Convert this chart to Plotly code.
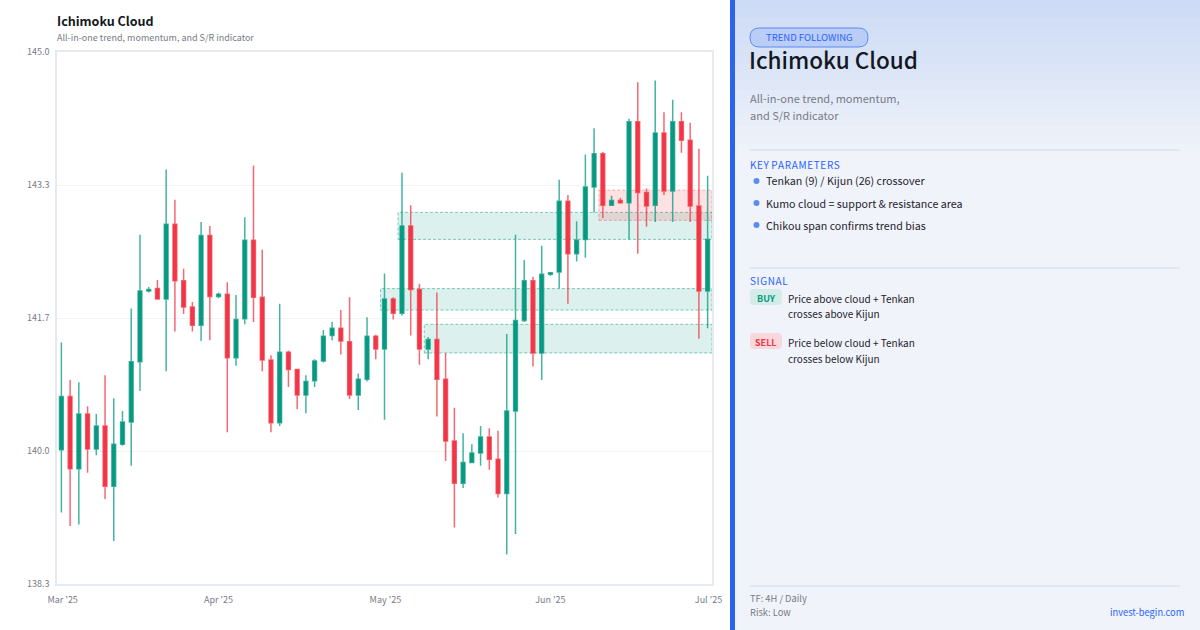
import plotly.graph_objects as go

# ---------------- data ----------------
opens = [139.99, 140.66, 139.75, 140.44, 140.00, 140.29, 139.53, 140.06, 140.34, 141.10,
         141.99, 142.02, 141.89, 142.83, 142.12, 141.79, 141.56, 142.69, 141.92, 141.95,
         141.15, 141.64, 142.63, 141.91, 141.12, 140.33, 141.22, 141.00, 140.68, 140.86,
         141.11, 141.43, 141.52, 141.35, 140.68, 140.88, 141.42, 141.26, 141.89, 141.71,
         142.81, 142.01, 141.26, 141.38, 140.88, 140.10, 139.57, 139.83, 139.95, 140.15,
         139.87, 139.44, 140.48, 141.62, 142.12, 141.21, 142.20, 142.23, 143.12, 142.46,
         142.64, 143.30, 143.72, 143.07, 143.13, 143.10, 144.12, 143.23, 143.07, 143.98,
         143.25, 144.12, 143.89, 143.06, 141.99]
highs = [141.34, 140.87, 140.84, 140.54, 140.44, 140.93, 140.64, 140.48, 141.77, 142.70,
         142.04, 142.13, 143.52, 143.14, 142.27, 141.85, 142.86, 142.81, 141.97, 142.10,
         141.94, 142.92, 143.57, 142.51, 141.18, 141.83, 141.24, 141.01, 140.93, 141.13,
         141.50, 141.60, 141.75, 141.91, 140.95, 141.66, 141.44, 142.21, 141.91, 143.48,
         143.07, 142.08, 141.41, 141.97, 141.21, 140.52, 140.20, 140.06, 140.29, 140.26,
         140.23, 141.45, 142.70, 142.38, 142.17, 142.56, 142.23, 143.39, 143.20, 142.87,
         143.71, 144.04, 143.74, 143.19, 143.16, 144.16, 144.62, 143.28, 144.64, 144.24,
         144.40, 144.24, 144.11, 143.78, 143.44]
lows = [139.20, 139.03, 139.05, 139.70, 139.92, 139.37, 138.84, 140.04, 139.79, 140.73,
        141.97, 141.88, 140.98, 141.48, 141.70, 141.48, 141.36, 141.37, 141.90, 140.21,
        141.05, 141.57, 141.60, 140.98, 140.21, 140.29, 140.78, 140.50, 140.45, 140.78,
        141.09, 141.37, 141.19, 140.63, 140.49, 140.85, 141.13, 140.37, 141.63, 141.68,
        141.43, 141.06, 141.13, 140.41, 139.85, 139.01, 139.51, 139.82, 139.79, 139.74,
        139.39, 138.67, 138.93, 141.60, 141.04, 140.87, 142.18, 142.02, 141.83, 142.36,
        142.41, 142.98, 142.91, 143.06, 143.09, 142.64, 142.46, 142.80, 142.86, 143.20,
        142.86, 143.73, 142.86, 141.39, 141.52]
closes = [140.66, 139.75, 140.44, 140.00, 140.29, 139.53, 140.06, 140.34, 141.10, 141.99,
          142.01, 141.89, 142.83, 142.12, 141.79, 141.56, 142.69, 141.92, 141.95, 141.15,
          141.63, 142.63, 141.91, 141.12, 140.33, 141.22, 141.00, 140.68, 140.85, 141.11,
          141.42, 141.52, 141.36, 140.68, 140.88, 141.42, 141.26, 141.89, 141.71, 142.81,
          142.01, 141.26, 141.38, 140.88, 140.10, 139.57, 139.83, 139.95, 140.15, 139.87,
          139.44, 140.48, 141.62, 142.12, 141.21, 142.20, 142.22, 143.12, 142.46, 142.63,
          143.30, 143.72, 143.07, 143.13, 143.10, 144.12, 143.23, 143.06, 143.98, 143.25,
          144.12, 143.89, 143.06, 141.99, 142.64]
candle_index = list(range(len(opens)))

# cloud / zone boxes: start candle, top, bottom, kind
zone_start = [42, 37, 39, 62]
zone_top = [141.57, 142.02, 142.98, 143.26]
zone_bottom = [141.21, 141.75, 142.64, 142.88]
zone_kind = ["bull", "bull", "bull", "bear"]

x_tick_pos = [0.15, 18.0, 37.1, 56.0, 74.1]
x_tick_text = ["Mar '25", "Apr '25", "May '25", "Jun '25", "Jul '25"]
y_tick_pos = [138.3, 139.975, 141.65, 143.325, 145.0]
y_tick_text = ["138.3", "140.0", "141.7", "143.3", "145.0"]

key_params = ["Tenkan (9) / Kijun (26) crossover",
              "Kumo cloud = support & resistance area",
              "Chikou span confirms trend bias"]

# ---------------- style ----------------
FONT = "Noto Sans CJK KR, Noto Sans, sans-serif"
UP = "#089981"
DOWN = "#f23645"
BLUE = "#2962ff"
W, H = 1200, 630
L, R, T, B = 57, 712, 52, 584  # plot area in px


def px(x):
    return (x - L) / (R - L)


def py(y):
    return (B - y) / (B - T)


fig = go.Figure()
fig.add_trace(go.Candlestick(
    x=candle_index, open=opens, high=highs, low=lows, close=closes,
    increasing=dict(line=dict(color="rgba(8,153,129,0.75)", width=1.5), fillcolor=UP),
    decreasing=dict(line=dict(color="rgba(242,54,69,0.75)", width=1.5), fillcolor=DOWN),
    whiskerwidth=0, showlegend=False, hoverinfo="skip",
))

shapes = []
x_end = len(opens) - 0.5
for s, t, b, k in zip(zone_start, zone_top, zone_bottom, zone_kind):
    if k == "bull":
        fill, line = "rgba(8,153,129,0.14)", "rgba(8,153,129,0.5)"
    else:
        fill, line = "rgba(242,54,69,0.15)", "rgba(242,54,69,0.38)"
    shapes.append(dict(type="rect", xref="x", yref="y", x0=s - 0.45, x1=x_end,
                       y0=b, y1=t, fillcolor=fill,
                       line=dict(color=line, width=1, dash="3px,2px"), layer="below"))

# ---- right panel ----
shapes.append(dict(type="rect", xref="paper", yref="paper", x0=px(730), x1=px(1200),
                   y0=py(630), y1=py(0), fillcolor="#f0f3f9", line=dict(width=0), layer="below"))
n = 18
c0 = (205, 219, 246)
c1 = (240, 243, 249)
for i in range(n):
    f = i / (n - 1)
    col = tuple(int(round(c0[j] + (c1[j] - c0[j]) * f)) for j in range(3))
    y0 = i * 9
    shapes.append(dict(type="rect", xref="paper", yref="paper", x0=px(730), x1=px(1200),
                       y0=py(y0 + 9.5), y1=py(y0), fillcolor="rgb(%d,%d,%d)" % col,
                       line=dict(width=0), layer="below"))
shapes.append(dict(type="rect", xref="paper", yref="paper", x0=px(730), x1=px(735),
                   y0=py(630), y1=py(0), fillcolor="#2a63f0", line=dict(width=0)))


def rrect(x0, y0, x1, y1, r):
    rx = r / (R - L)
    ry = r / (B - T)
    X0, X1, Y0, Y1 = px(x0), px(x1), py(y1), py(y0)
    return (f"M {X0+rx},{Y0} L {X1-rx},{Y0} Q {X1},{Y0} {X1},{Y0+ry} "
            f"L {X1},{Y1-ry} Q {X1},{Y1} {X1-rx},{Y1} L {X0+rx},{Y1} "
            f"Q {X0},{Y1} {X0},{Y1-ry} L {X0},{Y0+ry} Q {X0},{Y0} {X0+rx},{Y0} Z")


# badge
shapes.append(dict(type="path", xref="paper", yref="paper", path=rrect(750, 28, 868, 47, 9.5),
                   fillcolor="#b9cdf6", line=dict(color="#5b8af2", width=1)))
# dividers
for yy in (150, 268, 586):
    shapes.append(dict(type="line", xref="paper", yref="paper", x0=px(750), x1=px(1180),
                       y0=py(yy), y1=py(yy), line=dict(color="#dde3ec", width=1.5)))
# bullets
for k in range(len(key_params)):
    yy = 181 + 22 * k
    shapes.append(dict(type="circle", xref="paper", yref="paper",
                       x0=px(753.5), x1=px(759.5), y0=py(yy + 3), y1=py(yy - 3),
                       fillcolor="#5b8def", line=dict(width=0)))
# signal badges
shapes.append(dict(type="path", xref="paper", yref="paper", path=rrect(750, 289, 782, 305, 4),
                   fillcolor="#d3ece7", line=dict(width=0)))
shapes.append(dict(type="path", xref="paper", yref="paper", path=rrect(750, 333, 782, 349, 4),
                   fillcolor="#f8d8dd", line=dict(width=0)))

ann = []


def text(x, y, s, size, color, anchor="left", bold=False, weight=None):
    f = dict(family=FONT, size=size, color=color)
    if weight:
        f["weight"] = weight
    ann.append(dict(xref="paper", yref="paper", x=px(x), y=py(y), text=("<b>%s</b>" % s) if bold else s,
                    showarrow=False, xanchor=anchor, yanchor="middle", font=f, borderpad=0))


text(56, 20, "Ichimoku Cloud", 12.5, "#131722", bold=True)
text(56, 38, "All-in-one trend, momentum, and S/R indicator", 9, "#787b86")

text(809, 37, "TREND FOLLOWING", 9.5, BLUE, anchor="center")
text(748, 59, "Ichimoku Cloud", 22.5, "#131722", weight=500)
text(749, 98, "All-in-one trend, momentum,", 11, "#787b86")
text(749, 115, "and S/R indicator", 11, "#787b86")
text(749, 164, "K E Y  P A R A M E T E R S".replace(" ", "\u200a").replace("\u200a\u200a", " "), 10, BLUE)
for k, p in enumerate(key_params):
    text(765, 181 + 22 * k, p, 10.7, "#1e222d")
text(749, 280, "S\u200aI\u200aG\u200aN\u200aA\u200aL", 10, BLUE)
text(766, 298, "BUY", 9, UP, anchor="center", bold=True)
text(766, 342, "SELL", 9, DOWN, anchor="center", bold=True)
text(787, 298, "Price above cloud + Tenkan", 10, "#1e222d")
text(787, 314, "crosses above Kijun", 10, "#1e222d")
text(787, 342, "Price below cloud + Tenkan", 10, "#1e222d")
text(787, 358, "crosses below Kijun", 10, "#1e222d")
text(749, 598, "TF: 4H / Daily", 9.3, "#787b86")
text(749, 612, "Risk: Low", 9.3, "#787b86")
text(1185, 612, "invest-begin.com", 9.3, BLUE, anchor="right")

fig.update_layout(
    width=W, height=H,
    margin=dict(l=L, r=W - R, t=T, b=H - B, pad=0),
    paper_bgcolor="white", plot_bgcolor="white",
    boxgap=0.38,
    shapes=shapes, annotations=ann,
    font=dict(family=FONT),
    xaxis=dict(range=[-0.5, len(opens) - 0.5], rangeslider=dict(visible=False),
               tickvals=x_tick_pos, ticktext=x_tick_text, showgrid=False, zeroline=False,
               showline=True, mirror=True, linecolor="#e6e9ef", linewidth=1.5,
               ticks="", tickfont=dict(size=9, color="#787b86"), ticklabelstandoff=6),
    yaxis=dict(range=[138.3, 145.0], tickvals=y_tick_pos, ticktext=y_tick_text,
               showgrid=True, gridcolor="#f2f3f5", gridwidth=1, zeroline=False,
               showline=True, mirror=True, linecolor="#e6e9ef", linewidth=1.5,
               ticks="", tickfont=dict(size=9, color="#787b86"), ticklabelstandoff=4),
)

fig.write_html("out.html", config={"displayModeBar": False},
               post_script="document.body.style.margin='0px';")
